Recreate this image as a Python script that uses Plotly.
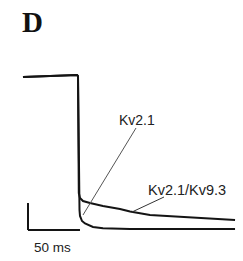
import plotly.graph_objects as go

# Time (ms, 0 = repolarisation step) and current (nA)
t_kv21 = [-52.9, -26.9, -0.96, 0.0, 0.48, 0.77, 1.44, 1.92, 3.85, 6.73, 10.6, 14.4, 24.0, 50.0, 98.0, 151.0]
i_kv21 = [5.667, 5.704, 5.741, 5.70, 2.963, 1.296, 0.741, 0.519, 0.333, 0.241, 0.167, 0.111, 0.063, 0.037, 0.037, 0.037]

t_kv21_93 = [-52.9, -26.9, -0.96, 0.0, 0.48, 0.77, 1.92, 4.81, 11.5, 24.0, 40.4, 50.0, 69.2, 98.1, 126.9, 151.0]
i_kv21_93 = [5.667, 5.704, 5.741, 5.70, 2.963, 1.370, 1.185, 1.074, 1.0, 0.889, 0.778, 0.685, 0.556, 0.481, 0.407, 0.370]

labels = ["Kv2.1", "Kv2.1/Kv9.3"]
scale_ms = 50
scale_na = 1
scale_label = "50 ms"
panel_label = "D"

trace_color = "#141414"
fig = go.Figure()
fig.add_trace(go.Scatter(x=t_kv21, y=i_kv21, mode="lines",
                         line=dict(color=trace_color, width=2), hoverinfo="skip"))
fig.add_trace(go.Scatter(x=t_kv21_93, y=i_kv21_93, mode="lines",
                         line=dict(color=trace_color, width=2), hoverinfo="skip"))

# scale bar
sb_x0, sb_y0 = -48.1, 0.0
fig.add_shape(type="line", x0=sb_x0, x1=sb_x0 + scale_ms, y0=sb_y0, y1=sb_y0,
              line=dict(color=trace_color, width=2))
fig.add_shape(type="line", x0=sb_x0, x1=sb_x0, y0=sb_y0, y1=sb_y0 + scale_na,
              line=dict(color=trace_color, width=2))

# leader lines
fig.add_shape(type="line", x0=55.8, y0=3.778, x1=4.81, y1=0.556,
              line=dict(color="#555555", width=1))
fig.add_shape(type="line", x0=82.7, y0=1.222, x1=51.9, y1=0.667,
              line=dict(color="#333333", width=1))

sans = "Liberation Sans, Arial, sans-serif"
fig.add_annotation(x=56.7, y=4.074, text=labels[0], showarrow=False,
                   xanchor="center", yanchor="middle",
                   font=dict(family=sans, size=14, color="#222222"))
fig.add_annotation(x=104.8, y=1.481, text=labels[1], showarrow=False,
                   xanchor="center", yanchor="middle",
                   font=dict(family=sans, size=14.5, color="#222222"))
fig.add_annotation(x=-25.0, y=-0.63, text=scale_label, showarrow=False,
                   xanchor="center", yanchor="middle",
                   font=dict(family=sans, size=13.5, color="#222222"))
fig.add_annotation(x=32 / 243, y=1 - 22 / 261, xref="paper", yref="paper",
                   text="<b>" + panel_label + "</b>", showarrow=False,
                   xanchor="center", yanchor="middle",
                   font=dict(family="Liberation Serif, Times New Roman, serif", size=29, color="#111111"))

fig.update_layout(
    width=243, height=261,
    margin=dict(l=0, r=0, t=0, b=0),
    paper_bgcolor="white", plot_bgcolor="white",
    showlegend=False,
    xaxis=dict(range=[-75.0, 158.65], visible=False, fixedrange=True),
    yaxis=dict(range=[-1.148, 8.519], visible=False, fixedrange=True),
)
fig.write_html("out.html", config={"displayModeBar": False})
